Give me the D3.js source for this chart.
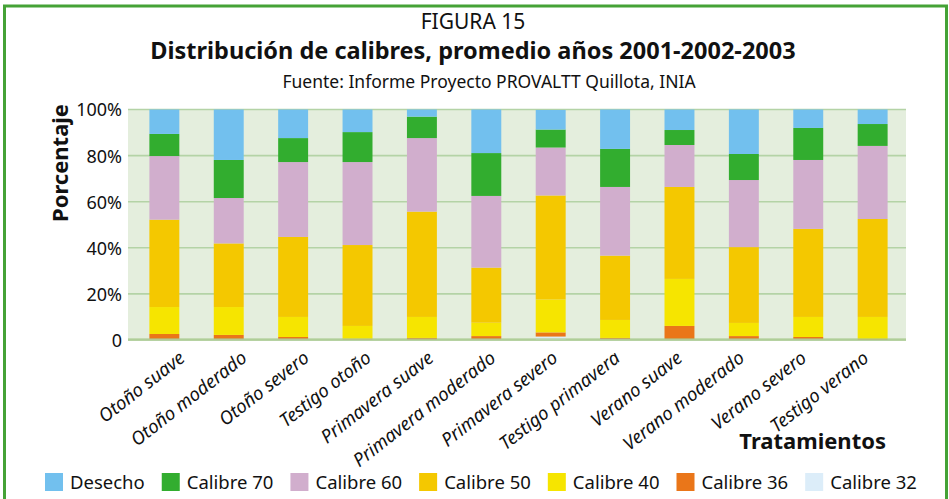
<!DOCTYPE html>
<html>
<head>
<meta charset="utf-8">
<script src="https://cdn.jsdelivr.net/npm/d3@7"></script>
<style>
  body { margin: 0; background: #fff; }
  svg { display: block; font-family: "Noto Sans", sans-serif; }
</style>
</head>
<body>
<svg id="chart" width="949" height="499"></svg>
<script>
// treatments on the x axis
var categories = ["Otoño suave", "Otoño moderado", "Otoño severo", "Testigo otoño",
  "Primavera suave", "Primavera moderado", "Primavera severo", "Testigo primavera",
  "Verano suave", "Verano moderado", "Verano severo", "Testigo verano"];

// series, bottom to top of each bar (percent)
var calibre32 = [0.3, 0.3, 0.3, 0.2, 0.2, 0.3, 1.5, 0.3, 0.3, 0.3, 0.3, 0.1];
var calibre36 = [2.3, 1.9, 1.0, 0.3, 0.7, 1.4, 1.8, 0.6, 5.8, 1.4, 1.0, 0.3];
var calibre40 = [11.7, 12.1, 8.7, 5.6, 9.1, 5.8, 14.3, 7.8, 20.4, 5.7, 8.7, 9.6];
var calibre50 = [37.9, 27.6, 34.7, 35.1, 45.7, 23.9, 45.1, 27.9, 39.9, 32.9, 38.2, 42.5];
var calibre60 = [27.6, 19.7, 32.5, 36.0, 31.9, 31.1, 20.8, 29.8, 18.2, 29.1, 29.9, 31.7];
var calibre70 = [9.6, 16.5, 10.4, 13.0, 9.3, 18.6, 7.8, 16.5, 6.5, 11.3, 13.9, 9.5];
var desecho = [10.6, 21.9, 12.4, 9.8, 3.1, 18.9, 8.5, 17.1, 8.9, 19.3, 8.0, 6.3];

var seriesNames = ["Calibre 32", "Calibre 36", "Calibre 40", "Calibre 50", "Calibre 60", "Calibre 70", "Desecho"];
var seriesValues = [calibre32, calibre36, calibre40, calibre50, calibre60, calibre70, desecho];
var seriesColors = ["#dcedf9", "#ea7619", "#f6e500", "#f4c800", "#d1aecd", "#32ad2f", "#72c0ee"];

// legend reads left to right from the top series down
var legendOrder = ["Desecho", "Calibre 70", "Calibre 60", "Calibre 50", "Calibre 40", "Calibre 36", "Calibre 32"];

var yTicks = [0, 20, 40, 60, 80, 100];

var svg = d3.select("#chart");

// outer green frame
svg.append("rect")
  .attr("x", 4.5).attr("y", 6).attr("width", 942).attr("height", 520)
  .attr("fill", "none").attr("stroke", "#45a236").attr("stroke-width", 3);

// titles
svg.append("text").attr("x", 473).attr("y", 29).attr("text-anchor", "middle")
  .style("font-size", "21px").attr("fill", "#111").text("FIGURA 15");
svg.append("text").attr("x", 473).attr("y", 59).attr("text-anchor", "middle")
  .style("font-size", "23.5px").style("font-weight", "bold").attr("fill", "#111")
  .text("Distribución de calibres, promedio años 2001-2002-2003");
svg.append("text").attr("x", 489).attr("y", 88).attr("text-anchor", "middle")
  .style("font-size", "17.5px").attr("fill", "#111")
  .text("Fuente: Informe Proyecto PROVALTT Quillota, INIA");

var plotLeft = 128, plotRight = 906;

var x = d3.scaleBand()
  .domain(categories)
  .range([132, 905])
  .paddingInner(0.535)
  .paddingOuter(0.27);

// the slanted labels sit on a slightly tighter spacing than the bars
var xLabel = d3.scalePoint().domain(categories).range([178, 862]);

var y = d3.scaleLinear().domain([0, 100]).range([340, 109.5]);

// plot background
svg.append("rect")
  .attr("x", plotLeft).attr("y", y(100))
  .attr("width", plotRight - plotLeft).attr("height", y(0) - y(100))
  .attr("fill", "#e4eedd");

// gridlines
svg.selectAll(".grid").data(yTicks).enter().append("line")
  .attr("class", "grid")
  .attr("x1", plotLeft).attr("x2", plotRight)
  .attr("y1", function (d) { return y(d); })
  .attr("y2", function (d) { return y(d); })
  .attr("stroke", "#b4d3a6").attr("stroke-width", 1.6);

// stack the series
var table = categories.map(function (c, i) {
  var row = { cat: c };
  seriesNames.forEach(function (s, j) { row[s] = seriesValues[j][i]; });
  return row;
});
var stacked = d3.stack().keys(seriesNames)(table);

svg.selectAll(".layer").data(stacked).enter().append("g")
  .attr("class", "layer")
  .attr("fill", function (d, i) { return seriesColors[i]; })
  .selectAll("rect").data(function (d) { return d; }).enter().append("rect")
  .attr("x", function (d) { return x(d.data.cat); })
  .attr("y", function (d) { return y(d[1]); })
  .attr("width", x.bandwidth())
  .attr("height", function (d) { return y(d[0]) - y(d[1]); });

// baseline drawn over the bars
svg.append("line")
  .attr("x1", plotLeft).attr("x2", plotRight)
  .attr("y1", y(0) - 0.5).attr("y2", y(0) - 0.5)
  .attr("stroke", "#a9c98f").attr("stroke-opacity", 0.75).attr("stroke-width", 2.5);

// y axis
var yAxis = d3.axisLeft(y).tickValues(yTicks).tickSize(0).tickPadding(0)
  .tickFormat(function (d) { return d === 0 ? "0" : d + "%"; });
var yg = svg.append("g").attr("transform", "translate(122,0)").call(yAxis);
yg.select(".domain").remove();
yg.selectAll("text").style("font-size", "18px").style("font-family", "Noto Sans, sans-serif")
  .attr("fill", "#111").attr("dy", "0.36em");

svg.append("text")
  .attr("transform", "translate(68,163) rotate(-90)")
  .attr("text-anchor", "middle")
  .style("font-size", "22px").style("font-weight", "bold").attr("fill", "#111")
  .text("Porcentaje");

// x labels, italic and slanted
svg.selectAll(".xlab").data(categories).enter().append("text")
  .attr("class", "xlab")
  .attr("transform", function (d) {
    return "translate(" + xLabel(d) + ",350) rotate(-38)";
  })
  .attr("text-anchor", "end")
  .attr("dy", "0.7em")
  .style("font-size", "18.5px").style("font-style", "italic").attr("fill", "#111")
  .text(function (d) { return d; });

svg.append("text").attr("x", 886).attr("y", 449).attr("text-anchor", "end")
  .style("font-size", "22px").style("font-weight", "bold").attr("fill", "#111")
  .text("Tratamientos");

// legend
var lx = 45;
legendOrder.forEach(function (name) {
  var color = seriesColors[seriesNames.indexOf(name)];
  svg.append("rect").attr("x", lx).attr("y", 473).attr("width", 18).attr("height", 18)
    .attr("fill", color);
  var t = svg.append("text").attr("x", lx + 25).attr("y", 489)
    .style("font-size", "18.5px").attr("fill", "#111").text(name);
  lx += 25 + t.node().getComputedTextLength() + 17;
});
</script>
</body>
</html>
